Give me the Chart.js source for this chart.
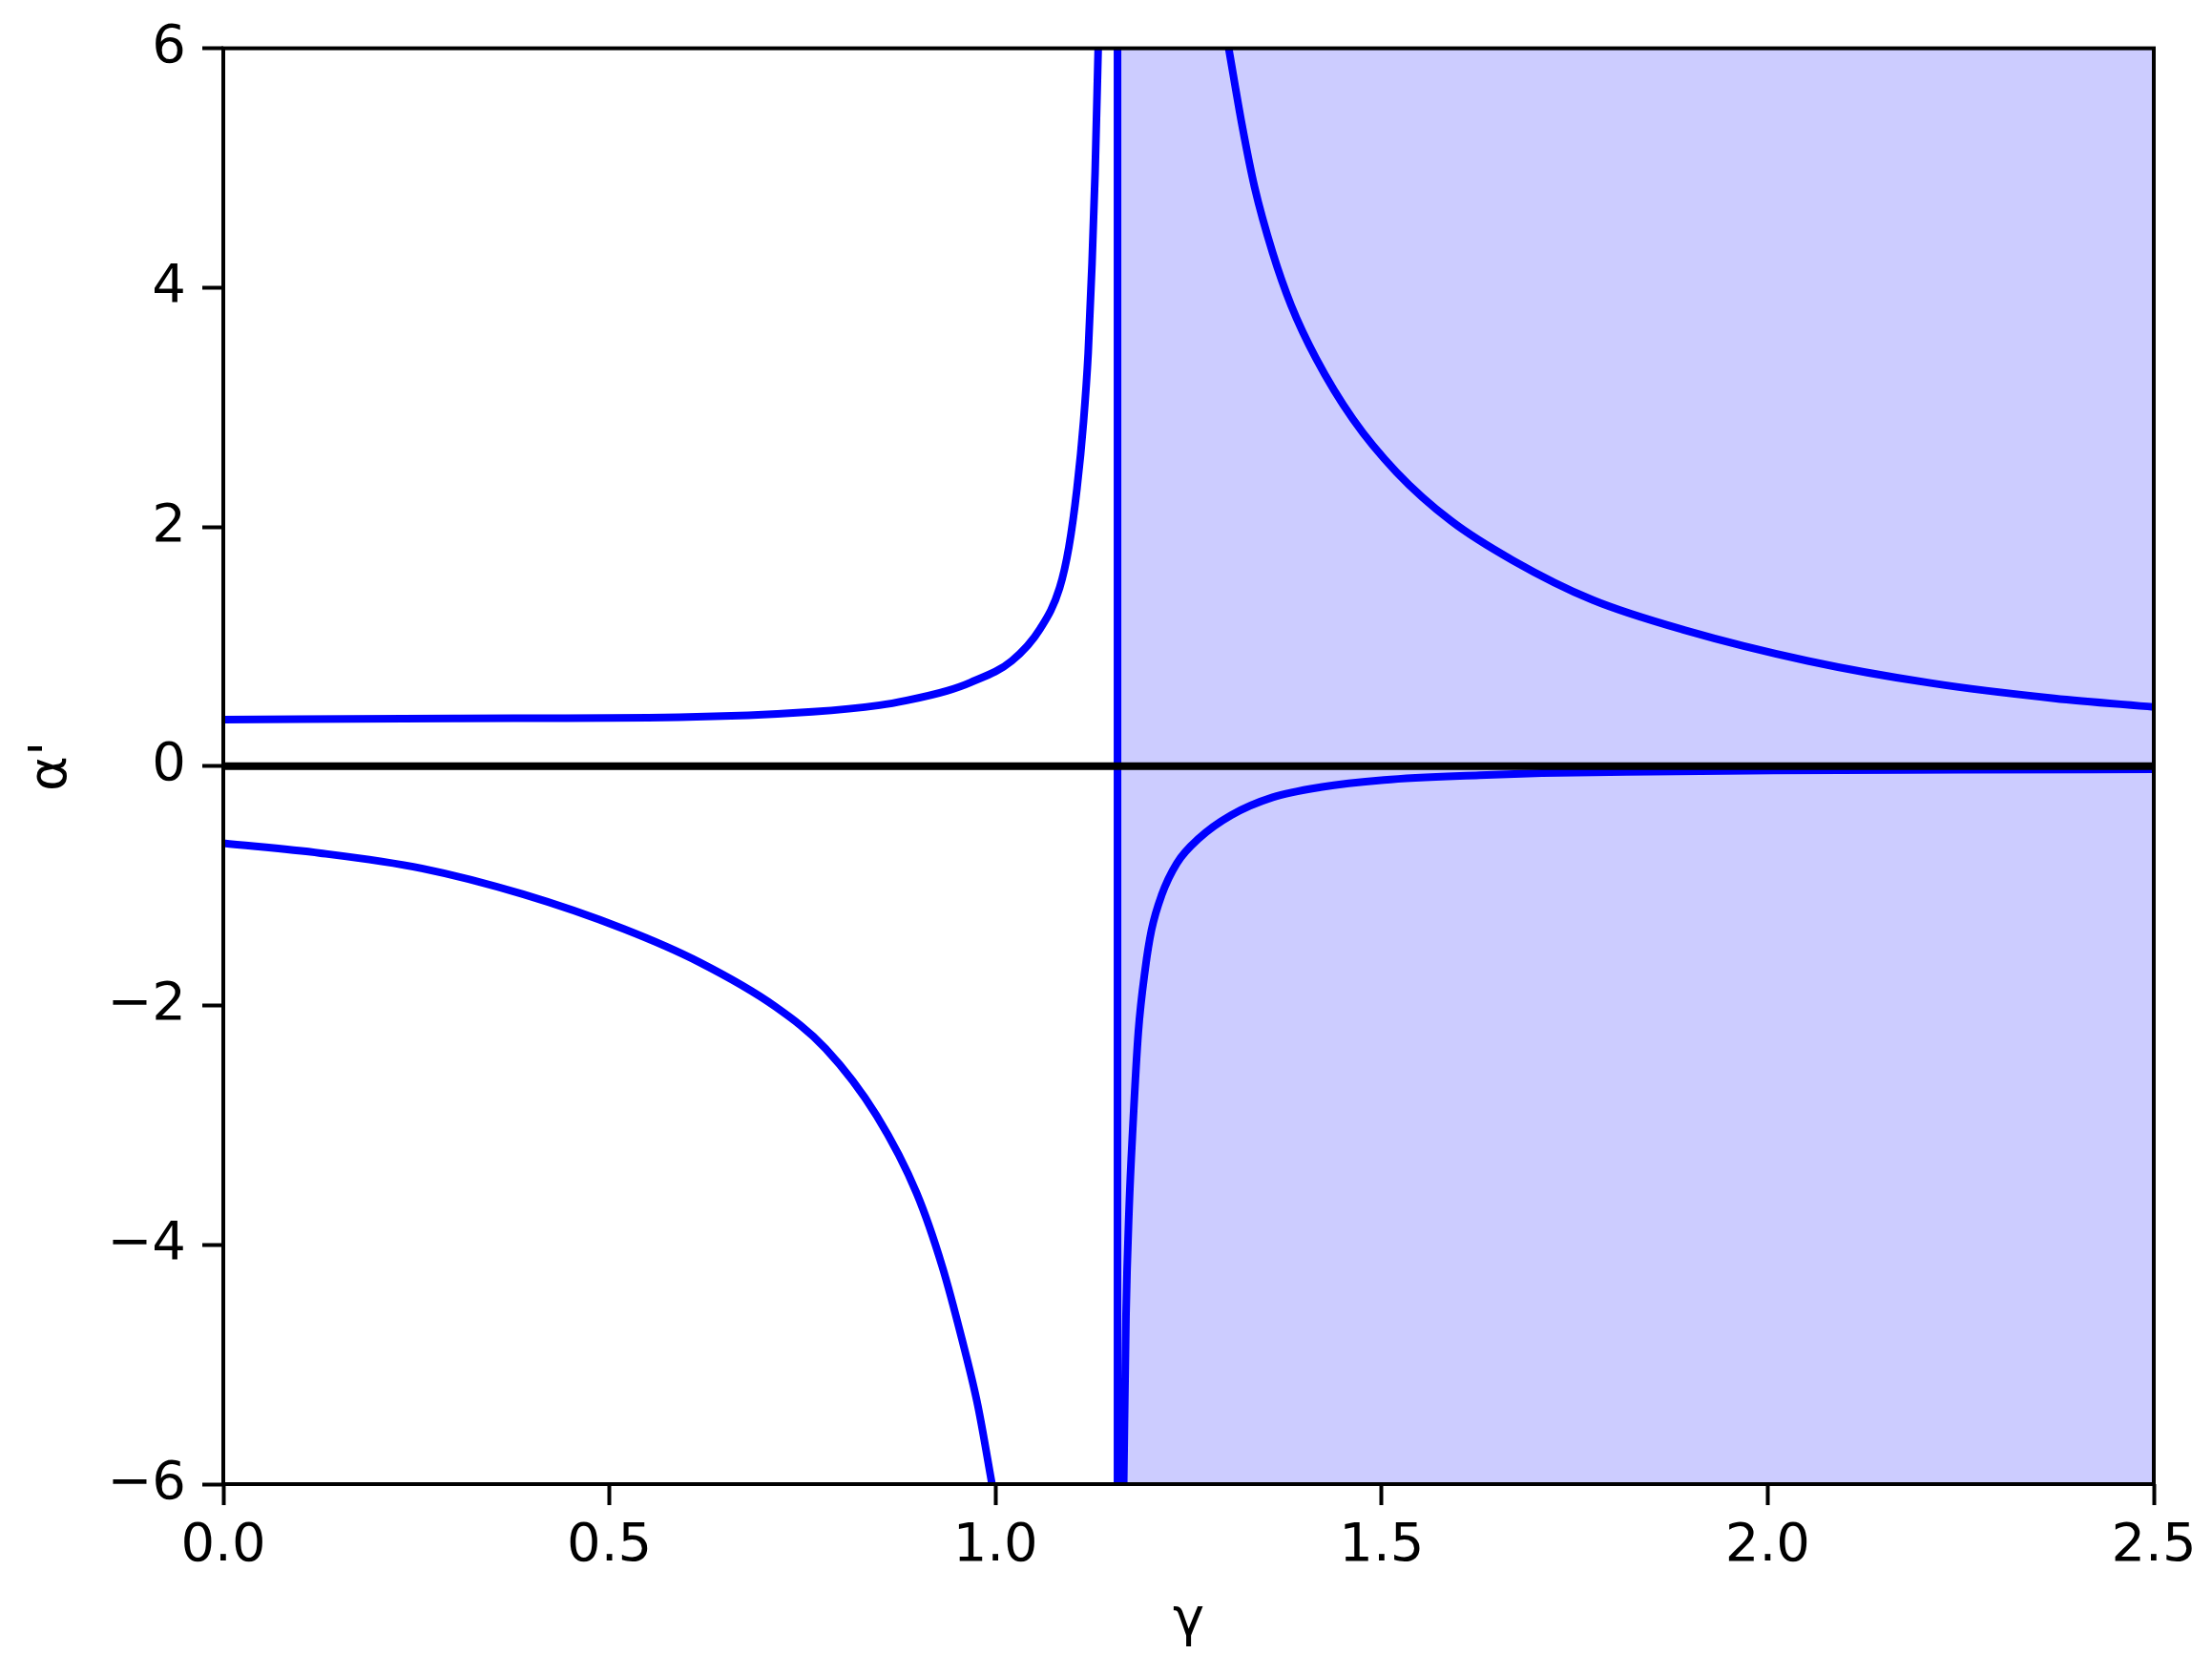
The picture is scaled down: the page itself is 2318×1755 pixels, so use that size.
<!DOCTYPE html>
<html>
<head>
<meta charset="utf-8">
<script src="https://cdn.jsdelivr.net/npm/chart.js@4/dist/chart.umd.min.js"></script>
<style>
  html, body { margin: 0; padding: 0; background: #fff; }
  #wrap { width: 2318px; height: 1755px; }
</style>
</head>
<body>
<div id="wrap"><canvas id="chart" width="2318" height="1755"></canvas></div>
<script>
// tick positions
const xTicks = [0, 0.5, 1.0, 1.5, 2.0, 2.5];
const yTicks = [-6, -4, -2, 0, 2, 4, 6];

// upper branch left of the pole
const ulGamma = [0, 0.30, 0.59, 0.763, 0.85, 0.885, 0.937, 0.9675, 1.021, 1.058, 1.083, 1.095, 1.1055, 1.114, 1.120, 1.125, 1.129, 1.133];
const ulAlpha = [0.39, 0.40, 0.41, 0.455, 0.51, 0.55, 0.63, 0.70, 0.88, 1.15, 1.49, 1.83, 2.32, 2.88, 3.45, 4.20, 4.96, 6.0];

// lower branch left of the pole
const llGamma = [0, 0.126, 0.257, 0.388, 0.5185, 0.617, 0.715, 0.780, 0.846, 0.898, 0.931, 0.957, 0.977, 0.9963];
const llAlpha = [-0.644, -0.727, -0.854, -1.07, -1.36, -1.64, -2.01, -2.36, -2.92, -3.57, -4.18, -4.80, -5.34, -6.03];

// upper branch right of the pole
const ruGamma = [1.302, 1.3195, 1.3355, 1.359, 1.383, 1.415, 1.463, 1.519, 1.590, 1.670, 1.773, 1.893, 2.052, 2.211, 2.371, 2.5];
const ruAlpha = [6.0, 5.35, 4.84, 4.29, 3.85, 3.41, 2.90, 2.46, 2.05, 1.72, 1.39, 1.136, 0.88, 0.695, 0.567, 0.495];

// lower branch right of the pole
const rlGamma = [1.166, 1.169, 1.173, 1.178, 1.185, 1.194, 1.202, 1.215, 1.235, 1.264, 1.305, 1.359, 1.421, 1.503, 1.627, 1.708, 1.85, 2.008, 2.25, 2.5];
const rlAlpha = [-6.0, -4.6, -3.7, -3.0, -2.22, -1.69, -1.37, -1.08, -0.81, -0.60, -0.41, -0.26, -0.175, -0.115, -0.075, -0.058, -0.045, -0.035, -0.03, -0.025];

// vertical line and shaded band
const poleGamma = [1.158, 1.158];
const poleAlpha = [-6, 6];
const bandGamma = [1.158, 2.5];
const bandTop = [6, 6];

// zero line
const zeroGamma = [0, 2.5];
const zeroAlpha = [0, 0];

const toPoints = (xs, ys) => xs.map((x, i) => ({ x: x, y: ys[i] }));

const FONT = "'DejaVu Sans', sans-serif";
const BLUE = "#0000ff";

function curve(xs, ys) {
    return {
        data: toPoints(xs, ys),
        showLine: true,
        borderColor: BLUE,
        borderWidth: 8,
        pointRadius: 0,
        cubicInterpolationMode: "monotone",
        fill: false,
        clip: 0,
        order: 1
    };
}

const spines = {
    id: "spines",
    afterDatasetsDraw(chart) {
        const { ctx, chartArea: a } = chart;
        ctx.save();
        ctx.strokeStyle = "#000";
        ctx.lineWidth = 4;
        ctx.strokeRect(a.left, a.top, a.right - a.left, a.bottom - a.top);
        ctx.restore();
    }
};

new Chart(document.getElementById("chart").getContext("2d"), {
    type: "scatter",
    data: {
        datasets: [
            {
                data: toPoints(zeroGamma, zeroAlpha),
                showLine: true,
                borderColor: "#000",
                borderWidth: 8,
                pointRadius: 0,
                clip: 0,
                order: 0
            },
            curve(ulGamma, ulAlpha),
            curve(llGamma, llAlpha),
            curve(ruGamma, ruAlpha),
            curve(rlGamma, rlAlpha),
            Object.assign(curve(poleGamma, poleAlpha), { cubicInterpolationMode: "default" }),
            {
                data: toPoints(bandGamma, bandTop),
                showLine: true,
                borderWidth: 0,
                borderColor: "rgba(0,0,0,0)",
                backgroundColor: "rgba(0, 0, 255, 0.2)",
                pointRadius: 0,
                fill: "start",
                clip: 0,
                order: 3
            }
        ]
    },
    options: {
        responsive: false,
        animation: false,
        devicePixelRatio: 1,
        layout: { padding: { top: 49, right: 61, left: 0, bottom: 0 } },
        plugins: { legend: { display: false }, tooltip: { enabled: false } },
        scales: {
            x: {
                type: "linear",
                min: 0,
                max: 2.5,
                afterBuildTicks: s => { s.ticks = xTicks.map(v => ({ value: v })); },
                afterFit: s => { s.height = 200; },
                border: { display: false },
                grid: { drawOnChartArea: false, drawTicks: true, tickLength: 22, tickWidth: 4, tickColor: "#000" },
                ticks: {
                    color: "#000",
                    padding: 10,
                    maxRotation: 0,
                    font: { family: FONT, size: 56 },
                    callback: v => v.toFixed(1)
                },
                title: {
                    display: true,
                    text: "γ",
                    color: "#000",
                    padding: { top: 0, bottom: 23 },
                    font: { family: FONT, size: 56 }
                }
            },
            y: {
                type: "linear",
                min: -6,
                max: 6,
                afterBuildTicks: s => { s.ticks = yTicks.map(v => ({ value: v })); },
                afterFit: s => { s.width = 234; },
                border: { display: false },
                grid: { drawOnChartArea: false, drawTicks: true, tickLength: 22, tickWidth: 4, tickColor: "#000" },
                ticks: {
                    color: "#000",
                    padding: 17,
                    font: { family: FONT, size: 56 },
                    callback: v => (v < 0 ? "\u2212" + Math.abs(v) : String(v))
                },
                title: {
                    display: true,
                    text: "α'",
                    color: "#000",
                    padding: { top: 21, bottom: 0 },
                    font: { family: FONT, size: 56 }
                }
            }
        }
    },
    plugins: [spines]
});
</script>
</body>
</html>
